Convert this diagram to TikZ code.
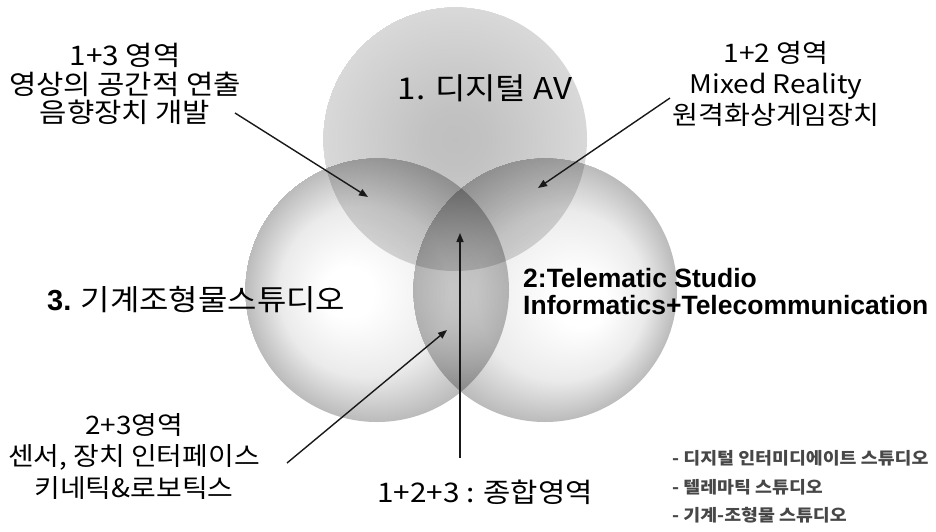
\documentclass[tikz,border=0pt]{standalone}
\usepackage{fontspec}
\setmainfont{Noto Sans CJK KR}[FakeStretch=1.1]
\newfontfamily\latb{Liberation Sans}
\usetikzlibrary{arrows.meta}
\pgfdeclareradialshading{topball}{\pgfpoint{0bp}{0bp}}{color(0bp)=(black!25); color(30bp)=(black!24); color(132bp)=(black!15)}
\pgfdeclareradialshading{leftball}{\pgfpoint{-35bp}{-3bp}}{color(0bp)=(white); color(25bp)=(white); color(85bp)=(black!8); color(132bp)=(black!27)}
\pgfdeclareradialshading{rightball}{\pgfpoint{45bp}{-15bp}}{color(0bp)=(white); color(25bp)=(white); color(85bp)=(black!8); color(132bp)=(black!27)}
\tikzset{
  lbl/.style={inner sep=0pt, align=center, text=black},
  ball/.style={inner sep=0pt, outer sep=0pt},
  pointer/.style={line width=1.4pt, draw=black!90, -{Triangle[length=9pt,width=7pt]}},
  legend/.style={inner sep=0pt, anchor=west, text=black!72, font=\fontsize{16.7}{19}\selectfont\bfseries}
}
\begin{document}
\begin{tikzpicture}[x=1pt,y=-1pt]
\useasboundingbox (0,0) rectangle (936,532);
\fill[white] (0,0) rectangle (936,532);
% circles
\begin{scope}
\clip (455,139) circle[radius=132];
\node[ball] (c1) at (455,139) {\pgfuseshading{topball}};
\end{scope}
\begin{scope}[blend mode=multiply]
\begin{scope}
\clip (377,290) circle[radius=132];
\node[ball] (c3) at (377,290) {\pgfuseshading{leftball}};
\end{scope}
\begin{scope}
\clip (545,290) circle[radius=132];
\node[ball] (c2) at (545,290) {\pgfuseshading{rightball}};
\end{scope}
\end{scope}
% titles
\node[lbl, font=\fontsize{30}{32}\selectfont] (t1) at (485,88) {1. 디지털 AV};
\node[lbl, anchor=west, font=\fontsize{29}{32}\selectfont] (t3) at (47,300) {{\latb\bfseries 3.} 기계조형물스튜디오};
\node[lbl, anchor=west, align=left, font=\fontsize{26.5}{27}\latb\bfseries] (t2) at (523,292) {2:Telematic Studio\\Informatics+Telecommunication};
% region labels
\node[lbl, font=\fontsize{27}{28.5}\selectfont] (l13) at (125,84) {1+3 영역\\영상의 공간적 연출\\음향장치 개발};
\node[lbl, font=\fontsize{25.6}{31}\selectfont] (l12) at (776,84) {1+2 영역\\Mixed Reality\\원격화상게임장치};
\node[lbl, font=\fontsize{25.4}{31.5}\selectfont] (l23) at (134,456) {2+3영역\\센서, 장치 인터페이스\\키네틱\&로보틱스};
\node[lbl, font=\fontsize{27}{32}\selectfont] (l123) at (485,492) {1+2+3 : 종합영역};
% legend
\node[legend] (g1) at (672,458) {- 디지털 인터미디에이트 스튜디오};
\node[legend] (g2) at (672,487) {- 텔레마틱 스튜디오};
\node[legend] (g3) at (672,515) {- 기계-조형물 스튜디오};
% arrow ends
\coordinate (s13) at (235,113);
\coordinate (e13) at (368,197);
\coordinate (s12) at (670,98);
\coordinate (e12) at (538,188);
\coordinate (s123) at (460,458);
\coordinate (e123) at (460,233);
\coordinate (s23) at (287,463);
\coordinate (e23) at (447,330);
\draw[pointer] (s13) -- (e13);
\draw[pointer] (s12) -- (e12);
\draw[pointer] (s123) -- (e123);
\draw[pointer] (s23) -- (e23);
\end{tikzpicture}
\end{document}
